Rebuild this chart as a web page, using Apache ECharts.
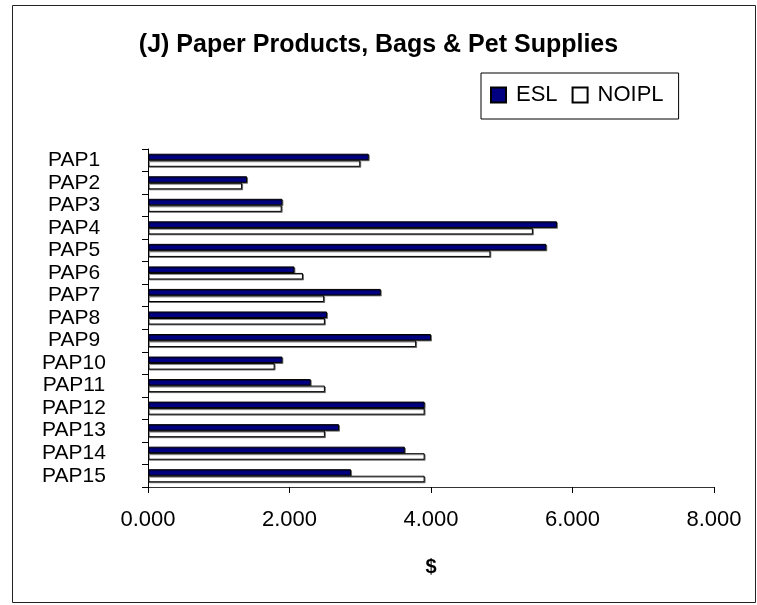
<!DOCTYPE html>
<html>
<head>
<meta charset="utf-8">
<script src="https://cdn.jsdelivr.net/npm/echarts@6/dist/echarts.min.js"></script>
<style>
  html, body { margin: 0; padding: 0; background: #fff; }
  #chart { width: 757px; height: 605px; }
</style>
</head>
<body>
<div id="chart"></div>
<script>
// categories top to bottom
const categories = ["PAP1", "PAP2", "PAP3", "PAP4", "PAP5", "PAP6", "PAP7", "PAP8",
  "PAP9", "PAP10", "PAP11", "PAP12", "PAP13", "PAP14", "PAP15"];
const eslValues = [3.12, 1.40, 1.90, 5.78, 5.63, 2.07, 3.29, 2.53, 4.00, 1.90, 2.30, 3.91, 2.70, 3.63, 2.87];
const noiplValues = [3.00, 1.33, 1.89, 5.44, 4.84, 2.19, 2.49, 2.50, 3.79, 1.79, 2.50, 3.91, 2.50, 3.91, 3.91];
const xTicks = [0, 2, 4, 6, 8];

const font = "Arial, 'Liberation Sans', sans-serif";
const barShadow = {
  shadowColor: "rgba(0,0,0,0.45)",
  shadowBlur: 0,
  shadowOffsetX: 1,
  shadowOffsetY: 1,
};

const option = {
  animation: false,
  backgroundColor: "#fff",
  textStyle: { fontFamily: font, color: "#000" },
  title: {
    text: "(J) Paper Products, Bags & Pet Supplies",
    left: "center",
    top: 28,
    textStyle: { fontFamily: font, fontSize: 25, fontWeight: "bold", color: "#000" },
  },
  legend: {
    left: 481,
    top: 73,
    padding: [11, 15, 13, 9],
    itemWidth: 15,
    itemHeight: 15,
    itemGap: 14,
    borderColor: "#000",
    borderWidth: 1,
    icon: "rect",
    textStyle: { fontFamily: font, fontSize: 22, color: "#000", padding: [0, 0, 0, 5] },
    data: ["ESL", "NOIPL"],
  },
  graphic: [
    {
      type: "rect",
      shape: { x: 12.5, y: 5.5, width: 743, height: 597 },
      style: { fill: "none", stroke: "#222", lineWidth: 1 },
      silent: true,
    },
  ],
  grid: {
    left: 148,
    right: 43,
    top: 149,
    bottom: 118,
  },
  xAxis: {
    type: "value",
    min: xTicks[0],
    max: xTicks[xTicks.length - 1],
    interval: xTicks[1] - xTicks[0],
    name: "$",
    nameLocation: "middle",
    nameGap: 70,
    nameTextStyle: { fontFamily: font, fontSize: 20, fontWeight: "bold", color: "#000" },
    axisLine: { show: true, lineStyle: { color: "#333", width: 1 } },
    axisTick: { show: true, length: 6, lineStyle: { color: "#000" } },
    splitLine: { show: false },
    axisLabel: {
      margin: 22,
      fontFamily: font,
      fontSize: 22,
      color: "#000",
      formatter: (v) => v.toFixed(3),
    },
  },
  yAxis: {
    type: "category",
    data: categories,
    inverse: true,
    axisLine: { show: true, lineStyle: { color: "#000", width: 1 } },
    axisTick: { show: true, length: 6, lineStyle: { color: "#000" } },
    splitLine: { show: false },
    axisLabel: {
      margin: 74,
      align: "center",
      fontFamily: font,
      fontSize: 21,
      color: "#000",
      interval: 0,
    },
  },
  series: [
    {
      name: "ESL",
      type: "bar",
      data: eslValues,
      barGap: "0%",
      barCategoryGap: "42%",
      itemStyle: Object.assign({ color: "#000080", borderColor: "#000", borderWidth: 1 }, barShadow),
    },
    {
      name: "NOIPL",
      type: "bar",
      data: noiplValues,
      barGap: "0%",
      barCategoryGap: "42%",
      itemStyle: Object.assign({ color: "#fff", borderColor: "#000", borderWidth: 1 }, barShadow),
    },
  ],
};

const chart = echarts.init(document.getElementById("chart"));
chart.setOption(option);
</script>
</body>
</html>
